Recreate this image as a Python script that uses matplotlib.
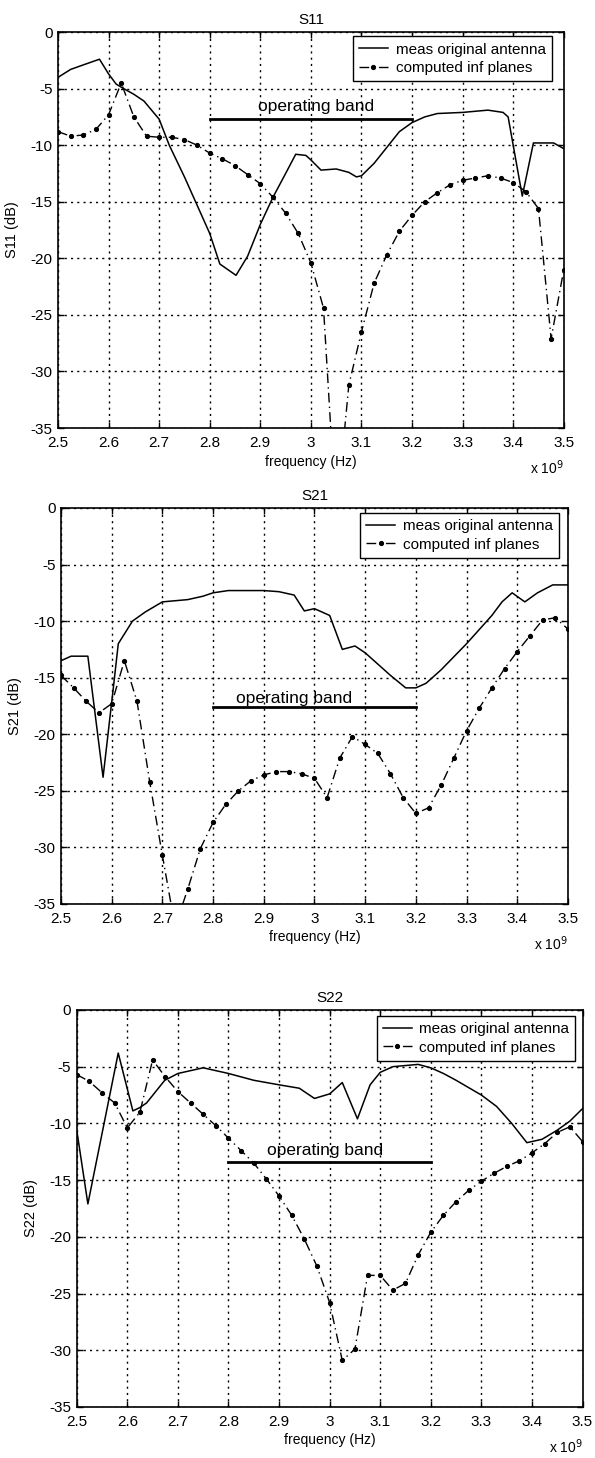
import numpy as np
import matplotlib
matplotlib.use("Agg")
import matplotlib.pyplot as plt
from matplotlib.ticker import FuncFormatter

plt.rcParams['font.family'] = ['Liberation Sans', 'DejaVu Sans']
plt.rcParams['axes.unicode_minus'] = False

# frequency grid of the computed (infinite planes) model, in GHz
f_calc = np.linspace(2.5, 3.5, 41)

# ---------------- S11 ----------------
f_s11_meas = [2.5, 2.525, 2.55, 2.582, 2.6, 2.615, 2.63, 2.65, 2.67, 2.7, 2.72, 2.75,
              2.78, 2.8, 2.82, 2.852, 2.875, 2.9, 2.925, 2.95, 2.97, 2.99, 3.0, 3.02,
              3.05, 3.075, 3.09, 3.1, 3.125, 3.15, 3.175, 3.2, 3.225, 3.25, 3.3, 3.35,
              3.38, 3.39, 3.4, 3.418, 3.44, 3.48, 3.5]
s11_meas = [-4.0, -3.3, -2.9, -2.4, -3.7, -4.6, -5.0, -5.5, -6.1, -7.7, -10.0, -12.8,
            -15.8, -17.8, -20.5, -21.5, -19.8, -17.0, -14.6, -12.5, -10.8, -10.9, -11.3, -12.2,
            -12.1, -12.4, -12.8, -12.7, -11.6, -10.2, -8.8, -8.0, -7.5, -7.2, -7.1, -6.9,
            -7.1, -7.5, -10.0, -14.5, -9.8, -9.8, -10.3]
s11_calc = [-8.8, -9.2, -9.1, -8.6, -7.3, -4.5, -7.5, -9.2, -9.3, -9.3, -9.5,
            -10.0, -10.7, -11.2, -11.8, -12.6, -13.4, -14.6, -16.0, -17.8, -20.4,
            -24.4, -43.0, -31.2, -26.5, -22.2, -19.7, -17.6, -16.2, -15.0, -14.2,
            -13.5, -13.1, -12.9, -12.7, -12.9, -13.3, -14.1, -15.6, -27.1, -21.0]

# ---------------- S21 ----------------
f_s21_meas = [2.5, 2.52, 2.553, 2.583, 2.603, 2.613, 2.641, 2.666, 2.7, 2.75, 2.78, 2.8,
              2.83, 2.9, 2.93, 2.96, 2.98, 3.0, 3.03, 3.055, 3.08, 3.1, 3.15, 3.18,
              3.2, 3.22, 3.25, 3.3, 3.35, 3.37, 3.39, 3.415, 3.44, 3.47, 3.5]
s21_meas = [-13.5, -13.1, -13.1, -23.8, -16.0, -12.0, -10.0, -9.2, -8.3, -8.1, -7.8, -7.5,
            -7.3, -7.3, -7.4, -7.7, -9.1, -8.9, -9.5, -12.5, -12.2, -12.8, -14.8, -15.9,
            -15.9, -15.5, -14.3, -12.0, -9.5, -8.3, -7.5, -8.3, -7.5, -6.8, -6.8]
s21_calc = [-14.8, -15.9, -17.1, -18.1, -17.3, -13.5, -17.1, -24.2, -30.7, -37.0, -33.7,
            -30.1, -27.8, -26.2, -25.0, -24.1, -23.6, -23.3, -23.3, -23.5, -23.9,
            -25.6, -22.1, -20.2, -20.9, -21.7, -23.5, -25.6, -27.0, -26.5, -24.5,
            -22.1, -19.7, -17.7, -15.9, -14.2, -12.7, -11.3, -9.9, -9.7, -10.7]

# ---------------- S22 ----------------
f_s22_meas = [2.5, 2.522, 2.582, 2.611, 2.625, 2.638, 2.674, 2.7, 2.75, 2.8, 2.85, 2.9,
              2.94, 2.97, 3.0, 3.025, 3.055, 3.08, 3.1, 3.125, 3.15, 3.175, 3.2, 3.225,
              3.25, 3.3, 3.33, 3.36, 3.39, 3.42, 3.45, 3.475, 3.5]
s22_meas = [-10.6, -17.1, -3.8, -8.9, -8.6, -8.2, -6.2, -5.6, -5.1, -5.6, -6.2, -6.6,
            -6.9, -7.8, -7.4, -6.4, -9.6, -6.6, -5.5, -5.0, -4.9, -4.8, -5.1, -5.6,
            -6.2, -7.5, -8.5, -10.0, -11.7, -11.4, -10.6, -9.8, -8.7]
s22_calc = [-5.7, -6.3, -7.3, -8.2, -10.4, -9.0, -4.4, -5.9, -7.2, -8.2, -9.2,
            -10.2, -11.3, -12.4, -13.5, -14.9, -16.4, -18.1, -20.2, -22.6, -25.8,
            -30.9, -29.9, -23.4, -23.4, -24.7, -24.1, -21.6, -19.6, -18.1, -16.9,
            -15.9, -15.1, -14.4, -13.8, -13.3, -12.6, -11.8, -10.8, -10.3, -11.6]

titles = ['S11', 'S21', 'S22']
ylabels = ['S11 (dB)', 'S21 (dB)', 'S22 (dB)']
legend_labels = ['meas original antenna', 'computed inf planes']
band_start, band_stop = 2.8, 3.2
band_level = [-7.65, -17.6, -13.4]
band_text_x = [3.01, 2.96, 2.99]
band_text_y = [-6.55, -16.85, -12.35]
xticks = [2.5, 2.6, 2.7, 2.8, 2.9, 3.0, 3.1, 3.2, 3.3, 3.4, 3.5]
yticks = [0, -5, -10, -15, -20, -25, -30, -35]

curves = [(f_s11_meas, s11_meas, s11_calc),
          (f_s21_meas, s21_meas, s21_calc),
          (f_s22_meas, s22_meas, s22_calc)]

# axes boxes in figure fractions [left, bottom, width, height]
boxes = [[0.0975, 0.7064, 0.850, 0.2716],
         [0.1025, 0.3800, 0.852, 0.2716],
         [0.1290, 0.0350, 0.850, 0.2723]]
legend_anchor = [(0.976, 0.989), (0.982, 0.987), (0.986, 0.985)]

fig = plt.figure(figsize=(5.95, 14.58), dpi=100)
fmt = FuncFormatter(lambda v, p: '%g' % round(v, 3))

for i in range(3):
    ax = fig.add_axes(boxes[i])
    fm, meas, calc = curves[i]
    ax.plot(fm, meas, color='black', lw=1.1, label=legend_labels[0])
    ax.plot(f_calc, calc, color='black', lw=1.0, ls=(0, (7, 3, 1, 3)),
            marker='.', markersize=5.5, label=legend_labels[1])
    # operating band marker
    ax.plot([band_start, band_stop], [band_level[i], band_level[i]], color='black', lw=2)
    ax.text(band_text_x[i], band_text_y[i], 'operating band', fontsize=12.5,
            ha='center', va='center')

    ax.set_xlim(2.5, 3.5)
    ax.set_ylim(-35, 0)
    ax.set_xticks(xticks)
    ax.set_yticks(yticks)
    ax.xaxis.set_major_formatter(fmt)
    ax.yaxis.set_major_formatter(fmt)
    ax.tick_params(direction='in', top=True, right=True, length=4, width=1,
                   labelsize=11, pad=4)
    ax.tick_params(axis='x', pad=6)
    ax.grid(True, color='black', ls=(0, (1.5, 3)), lw=1)
    for sp in ax.spines.values():
        sp.set_linewidth(1.2)

    ax.set_title(titles[i], fontsize=11, pad=6)
    ax.set_xlabel('frequency (Hz)', fontsize=10, labelpad=3)
    ax.set_ylabel(ylabels[i], fontsize=10.5, labelpad=8)
    ax.text(1.0, -0.1, r'x 10$^9$', transform=ax.transAxes, fontsize=10,
            ha='right', va='center')

    leg = ax.legend(loc='upper right', bbox_to_anchor=legend_anchor[i], borderaxespad=0,
                    fontsize=11, handlelength=1.9, handletextpad=0.5, borderpad=0.4,
                    labelspacing=0.3, fancybox=False, framealpha=1, edgecolor='black')
    leg.get_frame().set_linewidth(1.0)

fig.savefig('out.png', dpi=100)
